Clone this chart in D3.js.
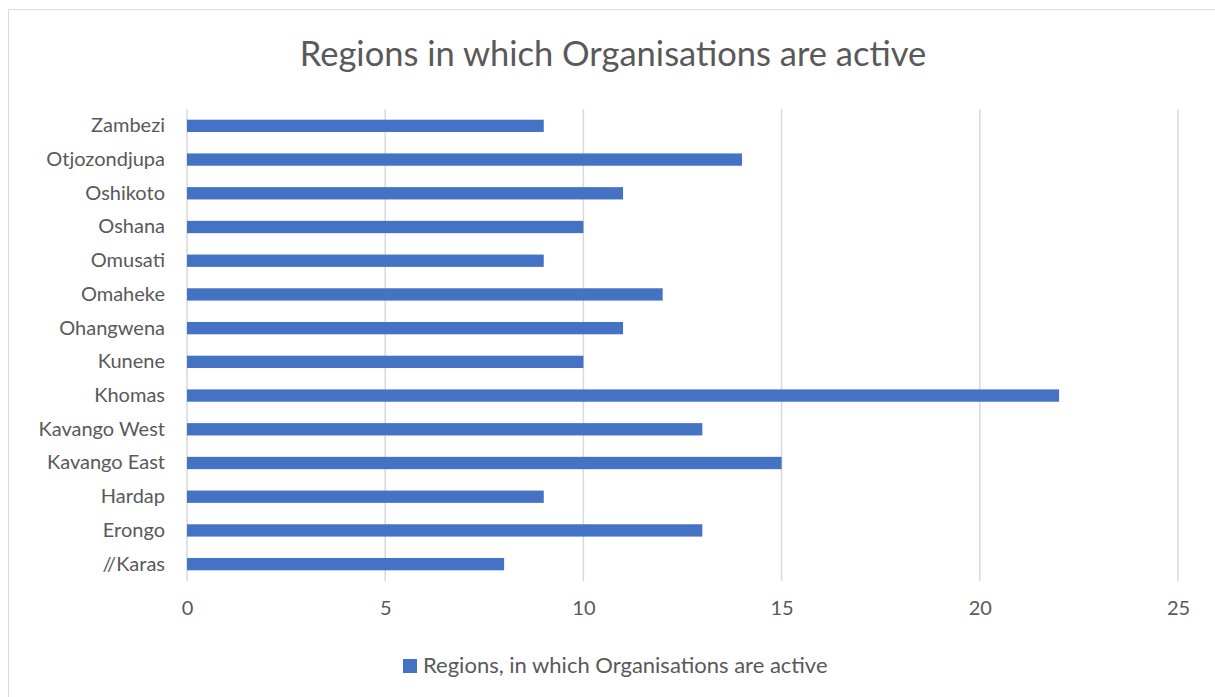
<!DOCTYPE html>
<html>

<head>
	<title>Regions in which Organisations are active</title>
	<script src="https://cdn.jsdelivr.net/npm/d3@7/dist/d3.min.js"></script>
	<style>
		body { margin: 0; background: #fff; }
		text { font-family: Lato, "Open Sans", sans-serif; fill: #595959; }
	</style>
</head>

<body>
	<svg id="chart" width="1215" height="697"></svg>

	<script type="text/javascript">
		// regions, listed bottom to top as in the chart
		var regions = ['//Karas', 'Erongo', 'Hardap', 'Kavango East', 'Kavango West', 'Khomas', 'Kunene',
			'Ohangwena', 'Omaheke', 'Omusati', 'Oshana', 'Oshikoto', 'Otjozondjupa', 'Zambezi'];
		var counts = [8, 13, 9, 15, 13, 22, 10, 11, 12, 9, 10, 11, 14, 9];
		var xTicks = [0, 5, 10, 15, 20, 25];
		var seriesName = 'Regions, in which Organisations are active';

		var svg = d3.select('#chart'),
			width = +svg.attr('width'),
			height = +svg.attr('height');

		var margin = { top: 109, right: 37, bottom: 116, left: 187 };

		// chart border
		svg.append('rect')
			.attr('x', 8.5).attr('y', 9.5)
			.attr('width', width + 10).attr('height', height + 10)
			.attr('fill', 'none')
			.attr('stroke', '#d9d9d9');

		var x = d3.scaleLinear()
			.domain([0, 25])
			.range([margin.left, width - margin.right]);

		var y = d3.scaleBand()
			.domain(regions.slice().reverse())
			.range([margin.top, height - margin.bottom])
			.paddingInner(0.635)
			.paddingOuter(0.3175);

		// gridlines
		svg.append('g')
			.selectAll('line')
			.data(xTicks)
			.enter()
			.append('line')
			.attr('x1', d => x(d)).attr('x2', d => x(d))
			.attr('y1', margin.top).attr('y2', height - margin.bottom)
			.attr('stroke', '#d9d9d9')
			.attr('stroke-width', 1.5);

		// bars
		svg.append('g')
			.selectAll('rect')
			.data(regions)
			.enter()
			.append('rect')
			.attr('x', x(0))
			.attr('y', d => y(d))
			.attr('width', (d, i) => x(counts[i]) - x(0))
			.attr('height', y.bandwidth())
			.attr('fill', '#4472c4');

		// x axis labels
		var xAxis = d3.axisBottom(x).tickValues(xTicks).tickSize(0).tickPadding(20);
		svg.append('g')
			.attr('transform', 'translate(0,' + (height - margin.bottom) + ')')
			.call(xAxis)
			.call(g => g.select('.domain').remove())
			.selectAll('text')
			.style('font-size', '20px')
			.style('font-family', 'Lato, sans-serif')
			.attr('fill', '#595959');

		// y axis labels
		var yAxis = d3.axisLeft(y).tickSize(0).tickPadding(22);
		svg.append('g')
			.attr('transform', 'translate(' + margin.left + ',0)')
			.call(yAxis)
			.call(g => g.select('.domain').remove())
			.selectAll('text')
			.style('font-size', '20px')
			.style('font-family', 'Lato, sans-serif')
			.attr('fill', '#595959');

		// title
		svg.append('text')
			.attr('x', 613).attr('y', 66)
			.attr('text-anchor', 'middle')
			.style('font-size', '34.5px')
			.text('Regions in which Organisations are active');

		// legend
		var legend = svg.append('g');
		legend.append('rect')
			.attr('x', 403).attr('y', 659)
			.attr('width', 14).attr('height', 14)
			.attr('fill', '#4472c4');
		legend.append('text')
			.attr('x', 423).attr('y', 673)
			.style('font-size', '22px')
			.text(seriesName);
	</script>
</body>

</html>
